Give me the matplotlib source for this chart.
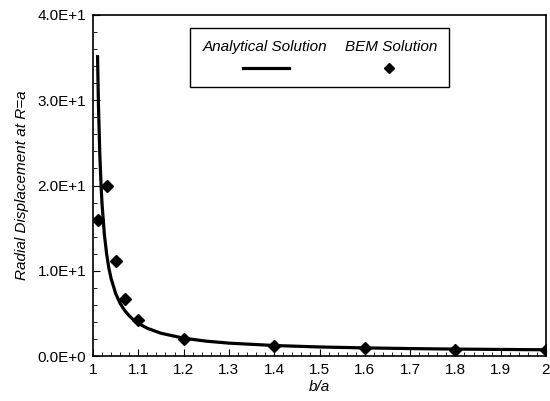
import matplotlib
matplotlib.use("Agg")
import matplotlib.pyplot as plt
from matplotlib.ticker import MultipleLocator
from matplotlib.patches import Rectangle
from matplotlib.lines import Line2D

# Analytical solution curve
curve_x = [1.01, 1.012, 1.015, 1.018, 1.02, 1.025, 1.03, 1.035, 1.04, 1.05,
           1.06, 1.07, 1.08, 1.09, 1.1, 1.12, 1.15, 1.2, 1.25, 1.3,
           1.4, 1.5, 1.6, 1.7, 1.8, 1.9, 2.0]
curve_y = [35.3, 29.5, 23.7, 19.8, 17.8, 14.3, 12.0, 10.3, 9.08, 7.33,
           6.16, 5.33, 4.71, 4.22, 3.83, 3.25, 2.67, 2.09, 1.74, 1.51,
           1.23, 1.06, 0.95, 0.87, 0.81, 0.77, 0.73]

# BEM solution points
bem_x = [1.01, 1.03, 1.05, 1.07, 1.1, 1.2, 1.4, 1.6, 1.8, 2.0]
bem_y = [16.0, 20.0, 11.1, 6.7, 4.2, 2.0, 1.2, 0.9, 0.75, 0.65]

x_ticks = [1.0, 1.1, 1.2, 1.3, 1.4, 1.5, 1.6, 1.7, 1.8, 1.9, 2.0]
x_tick_labels = ["1", "1.1", "1.2", "1.3", "1.4", "1.5", "1.6", "1.7", "1.8", "1.9", "2"]
y_ticks = [0, 10, 20, 30, 40]
y_tick_labels = ["0.0E+0", "1.0E+1", "2.0E+1", "3.0E+1", "4.0E+1"]

plt.rcParams['font.family'] = ['Liberation Sans', 'DejaVu Sans']
fs = 11

fig = plt.figure(figsize=(5.5, 4.01), dpi=100)
ax = fig.add_axes([93/550, 1 - 356/401, (546 - 93)/550, (356 - 15)/401])

ax.plot(curve_x, curve_y, color='black', lw=2.3, solid_capstyle='butt', zorder=3)
ax.plot(bem_x, bem_y, linestyle='none', marker='D', color='black', ms=6.5, zorder=4)

ax.set_xlim(1.0, 2.0)
ax.set_ylim(0, 40)
ax.set_xticks(x_ticks)
ax.set_xticklabels(x_tick_labels, fontsize=fs)
ax.set_yticks(y_ticks)
ax.set_yticklabels(y_tick_labels, fontsize=fs)
ax.xaxis.set_minor_locator(MultipleLocator(0.02))
ax.yaxis.set_minor_locator(MultipleLocator(2))
ax.tick_params(which='both', direction='in', top=False, right=False, color='black')
ax.tick_params(which='major', length=5, width=0.8, pad=5)
ax.tick_params(which='minor', length=3, width=0.6)
for s in ax.spines.values():
    s.set_linewidth(1.2)

ax.set_xlabel("b/a", fontsize=fs, style='italic', labelpad=2)
ax.set_ylabel("Radial Displacement at R=a", fontsize=fs, style='italic', labelpad=6)

# Custom legend box
fig.patches.append(Rectangle((190/550, 1 - 87/401), (449 - 190)/550, (87 - 28)/401,
                             transform=fig.transFigure, fill=True, facecolor='white',
                             edgecolor='black', lw=1.0, zorder=5))
fig.text(265/550, 1 - 47/401, "Analytical Solution", fontsize=fs, style='italic',
         ha='center', va='center', zorder=6)
fig.text(391/550, 1 - 47/401, "BEM Solution", fontsize=fs, style='italic',
         ha='center', va='center', zorder=6)
fig.lines.append(Line2D([243/550, 289/550], [1 - 68/401, 1 - 68/401], transform=fig.transFigure,
                        color='black', lw=2.3, zorder=6))
fig.lines.append(Line2D([389/550], [1 - 68/401], transform=fig.transFigure, marker='D',
                        color='black', ms=5, linestyle='none', zorder=6))

fig.savefig("out.png", dpi=100)
